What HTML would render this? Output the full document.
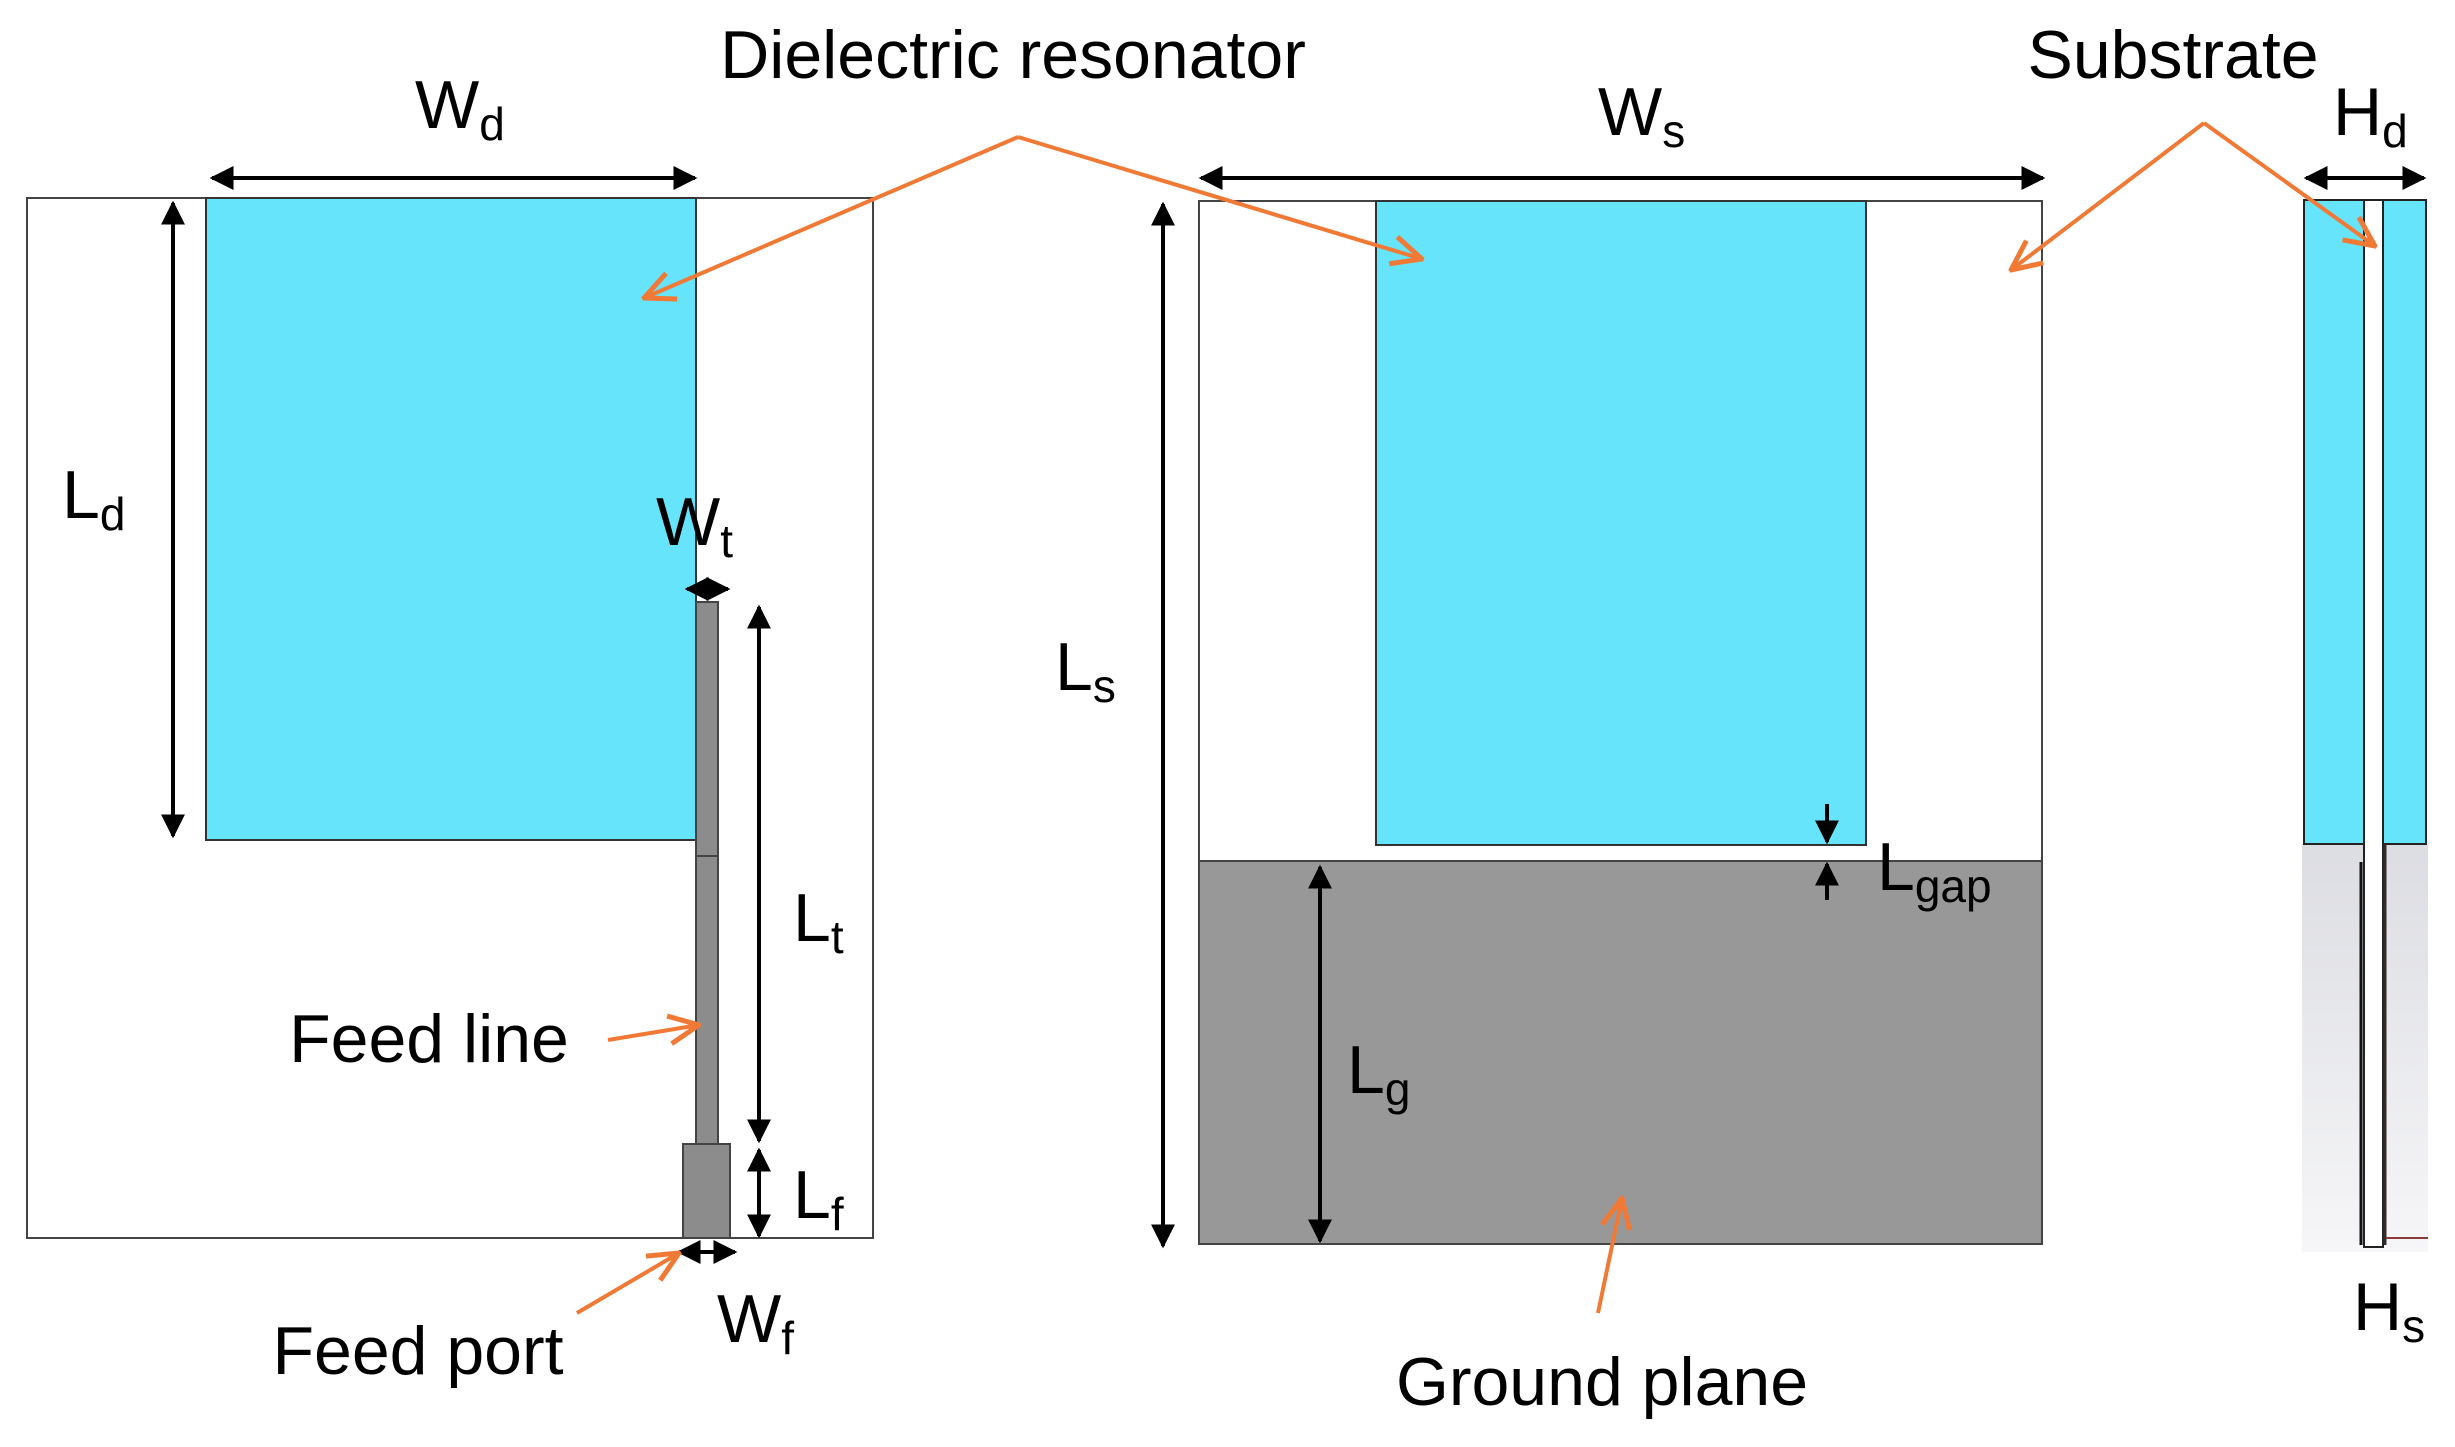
<!DOCTYPE html>
<html><head><meta charset="utf-8"><style>
html,body{margin:0;padding:0;background:#fff;}
svg{display:block;}
text{font-family:"Liberation Sans",sans-serif;fill:#000;}
</style></head><body>
<svg width="2455" height="1447" viewBox="0 0 2455 1447" xmlns="http://www.w3.org/2000/svg">
<defs>
<marker id="ah" viewBox="0 0 10 10" refX="9" refY="5" markerWidth="6" markerHeight="6" orient="auto-start-reverse"><path d="M0,0 L10,5 L0,10 z" fill="#000"/></marker>
<marker id="oh" viewBox="0 0 34 34" refX="32" refY="17" markerWidth="34" markerHeight="34" markerUnits="userSpaceOnUse" orient="auto"><path d="M2,3 L32,17 L2,31" fill="none" stroke="#f07a35" stroke-width="5"/></marker>
<linearGradient id="gg" x1="0" y1="0" x2="0" y2="1"><stop offset="0" stop-color="#dcdde2"/><stop offset="1" stop-color="#f6f6f8"/></linearGradient>
</defs>

<!-- Left view -->
<rect x="27" y="198" width="846" height="1040" fill="#fff" stroke="#444" stroke-width="2"/>
<rect x="206" y="198" width="490" height="642" fill="#66e4fc" stroke="#333" stroke-width="2"/>
<rect x="696" y="602" width="22" height="254" fill="#8c8c8c" stroke="#444" stroke-width="2"/>
<rect x="696" y="856" width="22" height="288" fill="#8c8c8c" stroke="#444" stroke-width="2"/>
<rect x="683" y="1144" width="47" height="94" fill="#8c8c8c" stroke="#444" stroke-width="2"/>

<g stroke="#000" stroke-width="4" fill="none">
<line x1="212" y1="178" x2="695" y2="178" marker-start="url(#ah)" marker-end="url(#ah)"/>
<line x1="173" y1="203" x2="173" y2="836" marker-start="url(#ah)" marker-end="url(#ah)"/>
<line x1="687" y1="589" x2="728" y2="589" marker-start="url(#ah)" marker-end="url(#ah)"/>
<line x1="759" y1="607" x2="759" y2="1141" marker-start="url(#ah)" marker-end="url(#ah)"/>
<line x1="759" y1="1150" x2="759" y2="1236" marker-start="url(#ah)" marker-end="url(#ah)"/>
<line x1="679" y1="1252" x2="735" y2="1252" marker-start="url(#ah)" marker-end="url(#ah)"/>
</g>

<!-- Middle view -->
<rect x="1199" y="201" width="843" height="660" fill="#fff" stroke="#444" stroke-width="2"/>
<rect x="1199" y="861" width="843" height="383" fill="#989898" stroke="#444" stroke-width="2"/>
<rect x="1376" y="201" width="490" height="644" fill="#66e4fc" stroke="#333" stroke-width="2"/>
<g stroke="#000" stroke-width="4" fill="none">
<line x1="1201" y1="178" x2="2043" y2="178" marker-start="url(#ah)" marker-end="url(#ah)"/>
<line x1="1163" y1="204" x2="1163" y2="1246" marker-start="url(#ah)" marker-end="url(#ah)"/>
<line x1="1320" y1="867" x2="1320" y2="1241" marker-start="url(#ah)" marker-end="url(#ah)"/>
<line x1="1827" y1="804" x2="1827" y2="842" marker-end="url(#ah)"/>
<line x1="1827" y1="900" x2="1827" y2="864" marker-end="url(#ah)"/>
</g>

<!-- Right side view -->
<rect x="2302" y="844" width="126" height="408" fill="url(#gg)"/>
<rect x="2304" y="200" width="61" height="644" fill="#66e4fc" stroke="#222" stroke-width="2"/>
<rect x="2383" y="200" width="43" height="644" fill="#66e4fc" stroke="#222" stroke-width="2"/>
<rect x="2364" y="200" width="19" height="1047" fill="#fff" stroke="#222" stroke-width="2"/>
<line x1="2361" y1="862" x2="2361" y2="1245" stroke="#111" stroke-width="3"/>
<line x1="2385" y1="844" x2="2385" y2="1245" stroke="#332a2a" stroke-width="3"/>
<line x1="2386" y1="1238" x2="2428" y2="1238" stroke="#8a3a3a" stroke-width="2"/>
<line x1="2306" y1="178" x2="2424" y2="178" stroke="#000" stroke-width="4" marker-start="url(#ah)" marker-end="url(#ah)"/>

<!-- Orange callouts -->
<g stroke="#f07a35" stroke-width="4" fill="none">
<line x1="1018" y1="137" x2="644" y2="298" marker-end="url(#oh)"/>
<line x1="1018" y1="137" x2="1422" y2="259" marker-end="url(#oh)"/>
<line x1="2204" y1="123" x2="2011" y2="270" marker-end="url(#oh)"/>
<line x1="2204" y1="123" x2="2375" y2="246" marker-end="url(#oh)"/>
<line x1="608" y1="1040" x2="699" y2="1025" marker-end="url(#oh)"/>
<line x1="577" y1="1313" x2="679" y2="1253" marker-end="url(#oh)"/>
<line x1="1598" y1="1313" x2="1622" y2="1198" marker-end="url(#oh)"/>
</g>

<!-- Labels -->
<g font-size="68">
<text x="1013" y="78" text-anchor="middle">Dielectric resonator</text>
<text x="2173" y="78" text-anchor="middle">Substrate</text>
<text x="429" y="1062" text-anchor="middle">Feed line</text>
<text x="418" y="1374" text-anchor="middle">Feed port</text>
<text x="1602" y="1405" text-anchor="middle">Ground plane</text>
<text x="415" y="128">W<tspan font-size="46" dy="12">d</tspan></text>
<text x="62" y="518">L<tspan font-size="46" dy="12">d</tspan></text>
<text x="656" y="545">W<tspan font-size="46" dy="12">t</tspan></text>
<text x="793" y="941">L<tspan font-size="46" dy="12">t</tspan></text>
<text x="793" y="1218">L<tspan font-size="46" dy="12">f</tspan></text>
<text x="717" y="1342">W<tspan font-size="46" dy="12">f</tspan></text>
<text x="1598" y="135">W<tspan font-size="46" dy="12">s</tspan></text>
<text x="1055" y="690">L<tspan font-size="46" dy="12">s</tspan></text>
<text x="1347" y="1093">L<tspan font-size="46" dy="12">g</tspan></text>
<text x="1877" y="890">L<tspan font-size="46" dy="12">gap</tspan></text>
<text x="2333" y="135">H<tspan font-size="46" dy="12">d</tspan></text>
<text x="2353" y="1330">H<tspan font-size="46" dy="12">s</tspan></text>
</g>
</svg>
</body></html>
